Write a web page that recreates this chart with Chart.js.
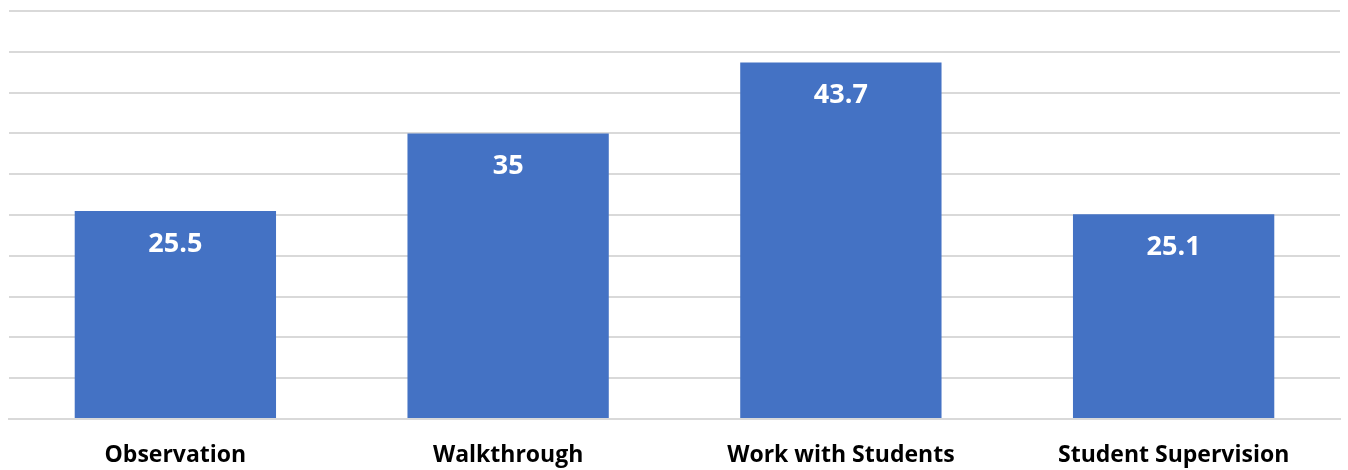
<!DOCTYPE html>
<html>
<head>
<meta charset="utf-8">
<script src="https://cdn.jsdelivr.net/npm/chart.js@4/dist/chart.umd.min.js"></script>
<style>
    html, body { margin: 0; padding: 0; background: #fff; }
    #wrap { width: 1348px; height: 470px; }
</style>
</head>
<body>
<div id="wrap"><canvas id="barChart"></canvas></div>
<script>
const categories = ['Observation', 'Walkthrough', 'Work with Students', 'Student Supervision'];
const values = [25.5, 35, 43.7, 25.1];
const valueLabels = ['25.5', '35', '43.7', '25.1'];

// white labels drawn inside the top of each bar
const barLabels = {
    id: 'barLabels',
    afterDatasetsDraw(chart) {
        const ctx = chart.ctx;
        const meta = chart.getDatasetMeta(0);
        ctx.save();
        ctx.fillStyle = '#ffffff';
        ctx.font = "bold 27px 'Open Sans', sans-serif";
        ctx.textAlign = 'center';
        ctx.textBaseline = 'middle';
        meta.data.forEach((bar, i) => {
            ctx.fillText(valueLabels[i], bar.x, bar.y + 33);
        });
        ctx.restore();
    }
};

const ctx = document.getElementById('barChart').getContext('2d');
new Chart(ctx, {
    type: 'bar',
    data: {
        labels: categories,
        datasets: [{
            data: values,
            backgroundColor: '#4472C4',
            categoryPercentage: 1,
            barPercentage: 0.605
        }]
    },
    options: {
        responsive: true,
        maintainAspectRatio: false,
        animation: false,
        layout: { padding: { left: 9, right: 8, top: 11, bottom: 0 } },
        plugins: { legend: { display: false }, tooltip: { enabled: false } },
        scales: {
            y: {
                min: 0,
                max: 50,
                ticks: { stepSize: 5, display: false },
                border: { display: false },
                grid: { color: '#d9d9d9', lineWidth: 2, drawTicks: false }
            },
            x: {
                afterFit(scale) { scale.height = 51; },
                grid: { display: false, drawTicks: false },
                border: { color: '#d9d9d9', width: 2 },
                ticks: {
                    color: '#000000',
                    padding: 23,
                    font: { family: "'Open Sans', sans-serif", weight: 'bold', size: 23 }
                }
            }
        }
    },
    plugins: [barLabels]
});
</script>
</body>
</html>
